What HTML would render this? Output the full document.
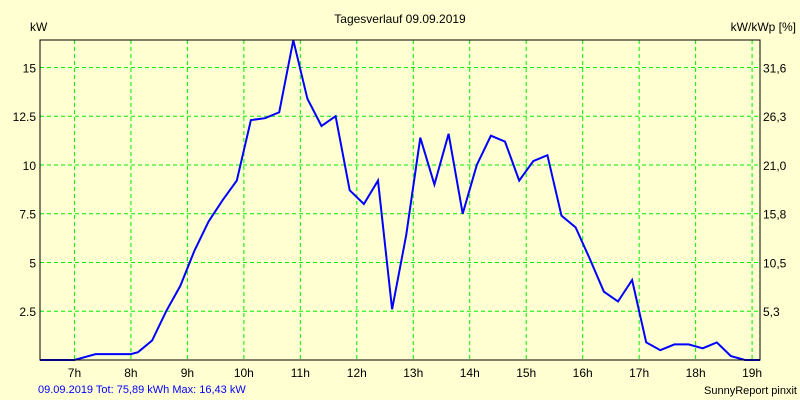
<!DOCTYPE html>
<html><head><meta charset="utf-8"><style>
html,body{margin:0;padding:0;background:#ffffd2;}
svg{display:block;font-family:"Liberation Sans",sans-serif;}
</style></head><body>
<svg id="chart" width="800" height="400">
<rect x="0" y="0" width="800" height="400" fill="#ffffd2"/>
<text x="400" y="23" font-size="12" text-anchor="middle" fill="#000">Tagesverlauf 09.09.2019</text>
<text x="30" y="31" font-size="12" fill="#000">kW</text>
<text x="796" y="31" font-size="12" text-anchor="end" fill="#000">kW/kWp [%]</text>
<g id="grid"></g>
<g id="labels"></g>
<path id="line" fill="none" stroke="#0000ff" stroke-width="2"/>
<path d="M40,40 V360 H760 V40 Z" fill="none" stroke="#000" stroke-width="1"/>
<text x="38" y="393" font-size="11" fill="#0000ff">09.09.2019 Tot: 75,89 kWh Max: 16,43 kW</text>
<text x="797" y="394" font-size="11" text-anchor="end" fill="#000">SunnyReport pinxit</text>
</svg>
<script>
const hourTicks = [7,8,9,10,11,12,13,14,15,16,17,18,19];
const yTicks = [2.5,5,7.5,10,12.5,15];
const yTickLabels = ["2.5","5","7.5","10","12.5","15"];
const rightTickLabels = ["5,3","10,5","15,8","21,0","26,3","31,6"];
const times = [6.39,7.0,7.375,8.0,8.125,8.375,8.625,8.875,9.125,9.375,9.625,9.875,10.125,10.375,10.625,10.875,11.125,11.375,11.625,11.875,12.125,12.375,12.625,12.875,13.125,13.375,13.625,13.875,14.125,14.375,14.625,14.875,15.125,15.375,15.625,15.875,16.125,16.375,16.625,16.875,17.125,17.375,17.625,17.875,18.125,18.375,18.625,18.875,19.14];
const power = [0,0,0.3,0.3,0.4,1.0,2.5,3.8,5.6,7.1,8.2,9.2,12.3,12.4,12.7,16.4,13.4,12.0,12.5,8.7,8.0,9.2,2.6,6.4,11.4,9.0,11.6,7.5,10.0,11.5,11.2,9.2,10.2,10.5,7.4,6.8,5.2,3.5,3.0,4.1,0.9,0.5,0.8,0.8,0.6,0.9,0.2,0,0];
const X0=40,X1=760,Y0=360,Y1=40,TMIN=6.39,TMAX=19.14,VMAX=16.41;
function xs(t){return X0+(t-TMIN)/(TMAX-TMIN)*(X1-X0);}
function ys(v){return Y0-v/VMAX*(Y0-Y1);}
const NS="http://www.w3.org/2000/svg";
const grid=document.getElementById('grid'), labels=document.getElementById('labels');
hourTicks.forEach(h=>{
  const x=xs(h);
  const l=document.createElementNS(NS,'line');
  l.setAttribute('x1',x);l.setAttribute('x2',x);l.setAttribute('y1',Y1);l.setAttribute('y2',Y0);
  l.setAttribute('stroke','#00ee00');l.setAttribute('stroke-dasharray','4,3');
  
  
  grid.appendChild(l);
  const t=document.createElementNS(NS,'text');
  t.setAttribute('x',x);t.setAttribute('y',377);t.setAttribute('font-size','12');t.setAttribute('text-anchor','middle');
  t.textContent=h+'h';
  
  
  labels.appendChild(t);
});
yTicks.forEach((v,i)=>{
  const y=ys(v);
  const l=document.createElementNS(NS,'line');
  l.setAttribute('x1',X0);l.setAttribute('x2',X1);l.setAttribute('y1',y);l.setAttribute('y2',y);
  l.setAttribute('stroke','#00ee00');l.setAttribute('stroke-dasharray','4,3');
  
  
  grid.appendChild(l);
  const t=document.createElementNS(NS,'text');
  t.setAttribute('x',36);t.setAttribute('y',y+5);t.setAttribute('font-size','12');t.setAttribute('text-anchor','end');
  t.textContent=yTickLabels[i];
  
  
  labels.appendChild(t);
  const r=document.createElementNS(NS,'text');
  r.setAttribute('x',763);r.setAttribute('y',y+5);r.setAttribute('font-size','12');
  r.textContent=rightTickLabels[i];
  
  
  labels.appendChild(r);
});
let d='';
times.forEach((t,i)=>{d+=(i?'L':'M')+xs(t).toFixed(1)+','+ys(Math.min(power[i],VMAX)).toFixed(1);});
document.getElementById('line').setAttribute('d',d);
</script>
</body></html>
